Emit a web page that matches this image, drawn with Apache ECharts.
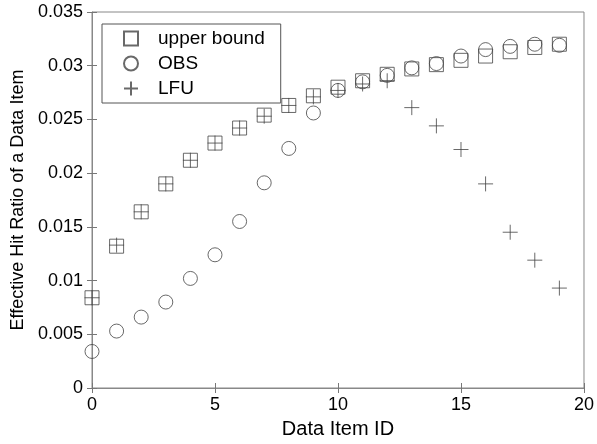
<!DOCTYPE html>
<html>
<head>
<meta charset="utf-8">
<script src="https://cdn.jsdelivr.net/npm/echarts@6/dist/echarts.min.js"></script>
<style>
html,body{margin:0;padding:0;background:#fff;}
#chart{width:597px;height:444px;}
</style>
</head>
<body>
<div id="chart"></div>
<script>
var itemIds = [0,1,2,3,4,5,6,7,8,9,10,11,12,13,14,15,16,17,18,19];
var upperBound = [0.0084,0.0132,0.0164,0.0190,0.0212,0.0228,0.0242,0.0254,0.0263,0.0272,0.0280,0.0286,0.0292,0.0297,0.0301,0.0305,0.0309,0.0313,0.0317,0.0320];
var obs = [0.0034,0.0053,0.0066,0.0080,0.0102,0.0124,0.0155,0.0191,0.0223,0.0256,0.0277,0.0285,0.0291,0.0298,0.0302,0.0309,0.0315,0.0318,0.0320,0.0319];
var lfu = [0.0084,0.0133,0.0164,0.0190,0.0212,0.0228,0.0242,0.0253,0.0263,0.0271,0.0277,0.0283,0.0286,0.0261,0.0244,0.0222,0.0190,0.0145,0.0119,0.0093];
var yTicks = ['0','0.005','0.01','0.015','0.02','0.025','0.03','0.035'];

function pairs(vals) {
	var out = [];
	for (var i = 0; i < itemIds.length; i++) out.push([itemIds[i], vals[i]]);
	return out;
}

var font = 'Liberation Sans, Arial, sans-serif';
var markColor = '#444';
var plusPath = 'path://M0,5L10,5M5,0L5,10';

var chart = echarts.init(document.getElementById('chart'));
var tickStyle = {show: true, inside: true, length: 5, lineStyle: {color: '#777'}};
chart.setOption({
	animation: false,
	grid: {left: 92, right: 11, top: 12, bottom: 55, show: true, borderColor: '#888', borderWidth: 1},
	legend: {
		orient: 'vertical', left: 102, top: 24,
		padding: [5, 16, 5, 21], itemGap: 6, itemWidth: 14, itemHeight: 14,
		borderColor: '#555', borderWidth: 1, backgroundColor: '#fff',
		textStyle: {fontFamily: font, fontSize: 19, lineHeight: 19, color: '#000', padding: [0, 0, 0, 15]},
		data: ['upper bound', 'OBS', 'LFU']
	},
	xAxis: [{
		type: 'value', min: 0, max: 20, interval: 5,
		name: 'Data Item ID', nameLocation: 'middle', nameGap: 31,
		nameTextStyle: {fontFamily: font, fontSize: 20, color: '#000'},
		axisLine: {show: true, lineStyle: {color: '#888'}},
		axisTick: tickStyle, splitLine: {show: false},
		axisLabel: {fontFamily: font, fontSize: 18, color: '#000', margin: 8}
	}, {
		type: 'value', position: 'top', min: 0, max: 20, interval: 5,
		axisLine: {show: false}, axisTick: tickStyle, axisLabel: {show: false}, splitLine: {show: false}
	}],
	yAxis: [{
		type: 'value', min: 0, max: 0.035, interval: 0.005,
		name: 'Effective Hit Ratio of a Data Item', nameLocation: 'middle', nameGap: 65,
		nameTextStyle: {fontFamily: font, fontSize: 18, color: '#000'},
		axisLine: {show: true, lineStyle: {color: '#888'}},
		axisTick: tickStyle, splitLine: {show: false},
		axisLabel: {fontFamily: font, fontSize: 18, color: '#000', margin: 9,
			formatter: function (v, i) { return yTicks[i]; }}
	}, {
		type: 'value', position: 'right', min: 0, max: 0.035, interval: 0.005,
		axisLine: {show: false}, axisTick: tickStyle, axisLabel: {show: false}, splitLine: {show: false}
	}],
	series: [{
		name: 'upper bound', type: 'scatter', symbol: 'rect', symbolSize: 14,
		itemStyle: {color: 'rgba(0,0,0,0)', borderColor: markColor, borderWidth: 1},
		data: pairs(upperBound)
	}, {
		name: 'OBS', type: 'scatter', symbol: 'circle', symbolSize: 14,
		itemStyle: {color: 'rgba(0,0,0,0)', borderColor: markColor, borderWidth: 1},
		data: pairs(obs)
	}, {
		name: 'LFU', type: 'scatter', symbol: plusPath, symbolSize: 15,
		itemStyle: {color: 'rgba(0,0,0,0)', borderColor: markColor, borderWidth: 1},
		data: pairs(lfu)
	}]
});
</script>
</body>
</html>
